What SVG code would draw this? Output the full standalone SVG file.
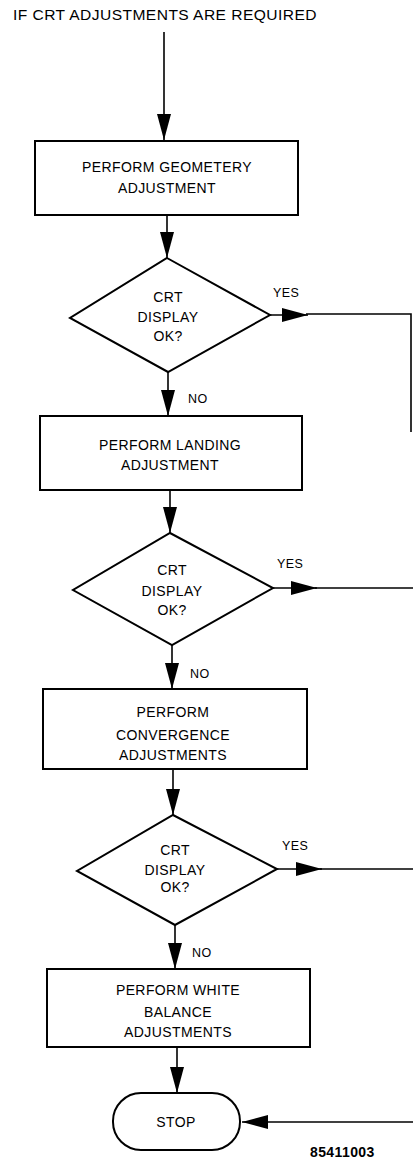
<svg xmlns="http://www.w3.org/2000/svg" width="413" height="1162" viewBox="0 0 413 1162">
<style>
text{font-family:"Liberation Sans",Arial,sans-serif;font-size:14px;fill:#000;letter-spacing:0.4px}
.c{text-anchor:middle}
.lbl{font-size:12.5px}
.shape{fill:#fff;stroke:#000;stroke-width:2}
.conn line,.conn polyline{stroke:#000;stroke-width:1.6;fill:none}
</style>
<defs>
<marker id="ah" markerUnits="userSpaceOnUse" markerWidth="27" markerHeight="14" refX="26" refY="7" orient="auto">
<path d="M0,0 L26,7 L0,14 Z" fill="#000"/>
</marker>
</defs>
<text x="13" y="20" font-size="15" textLength="304" lengthAdjust="spacingAndGlyphs">IF CRT ADJUSTMENTS ARE REQUIRED</text>
<g class="conn" id="connectors">
<line x1="164" y1="32" x2="164" y2="140" marker-end="url(#ah)"/>
<line x1="167" y1="215" x2="167" y2="258" marker-end="url(#ah)"/>
<line x1="270" y1="315" x2="308" y2="315" marker-end="url(#ah)"/>
<polyline points="306,314 411,314 411,432"/>
<line x1="168" y1="372" x2="168" y2="416" marker-end="url(#ah)"/>
<line x1="170" y1="490" x2="170" y2="533" marker-end="url(#ah)"/>
<line x1="273" y1="588" x2="317" y2="588" marker-end="url(#ah)"/>
<line x1="315" y1="588" x2="413" y2="588"/>
<line x1="172" y1="645" x2="172" y2="689" marker-end="url(#ah)"/>
<line x1="173" y1="769" x2="173" y2="815" marker-end="url(#ah)"/>
<line x1="277" y1="869" x2="322" y2="869" marker-end="url(#ah)"/>
<line x1="320" y1="869" x2="413" y2="869"/>
<line x1="175" y1="925" x2="175" y2="969" marker-end="url(#ah)"/>
<line x1="177" y1="1047" x2="177" y2="1093" marker-end="url(#ah)"/>
<line x1="413" y1="1122" x2="242" y2="1122" marker-end="url(#ah)"/>
<text class="lbl" x="273" y="297">YES</text>
<text class="lbl" x="188" y="403">NO</text>
<text class="lbl" x="277" y="568">YES</text>
<text class="lbl" x="190" y="678">NO</text>
<text class="lbl" x="282" y="850">YES</text>
<text class="lbl" x="192" y="957">NO</text>
</g>
<g id="box1">
<rect class="shape" x="35" y="141" width="263" height="74"/>
<text class="c" x="167" y="172">PERFORM GEOMETERY</text>
<text class="c" x="167" y="193">ADJUSTMENT</text>
</g>
<g id="dec1">
<polygon class="shape" points="167,258 270,315 168,372 70,318"/>
<text class="c" x="168" y="302">CRT</text>
<text class="c" x="168" y="322">DISPLAY</text>
<text class="c" x="168" y="341">OK?</text>
</g>
<g id="box2">
<rect class="shape" x="40" y="416" width="262" height="74"/>
<text class="c" x="170" y="450">PERFORM LANDING</text>
<text class="c" x="170" y="470">ADJUSTMENT</text>
</g>
<g id="dec2">
<polygon class="shape" points="170,533 273,588 172,645 73,590"/>
<text class="c" x="172" y="575">CRT</text>
<text class="c" x="172" y="596">DISPLAY</text>
<text class="c" x="172" y="615">OK?</text>
</g>
<g id="box3">
<rect class="shape" x="43" y="689" width="264" height="80"/>
<text class="c" x="173" y="717">PERFORM</text>
<text class="c" x="173" y="740">CONVERGENCE</text>
<text class="c" x="173" y="760">ADJUSTMENTS</text>
</g>
<g id="dec3">
<polygon class="shape" points="173,815 277,869 175,925 77,871"/>
<text class="c" x="175" y="855">CRT</text>
<text class="c" x="175" y="875">DISPLAY</text>
<text class="c" x="175" y="892">OK?</text>
</g>
<g id="box4">
<rect class="shape" x="47" y="969" width="263" height="78"/>
<text class="c" x="178" y="995">PERFORM WHITE</text>
<text class="c" x="178" y="1017">BALANCE</text>
<text class="c" x="178" y="1037">ADJUSTMENTS</text>
</g>
<g id="stop">
<rect class="shape" x="113" y="1093" width="127" height="57" rx="28" ry="28"/>
<text class="c" x="176" y="1127">STOP</text>
</g>
<text x="310" y="1157" font-size="12.5" font-weight="bold">85411003</text>
</svg>
